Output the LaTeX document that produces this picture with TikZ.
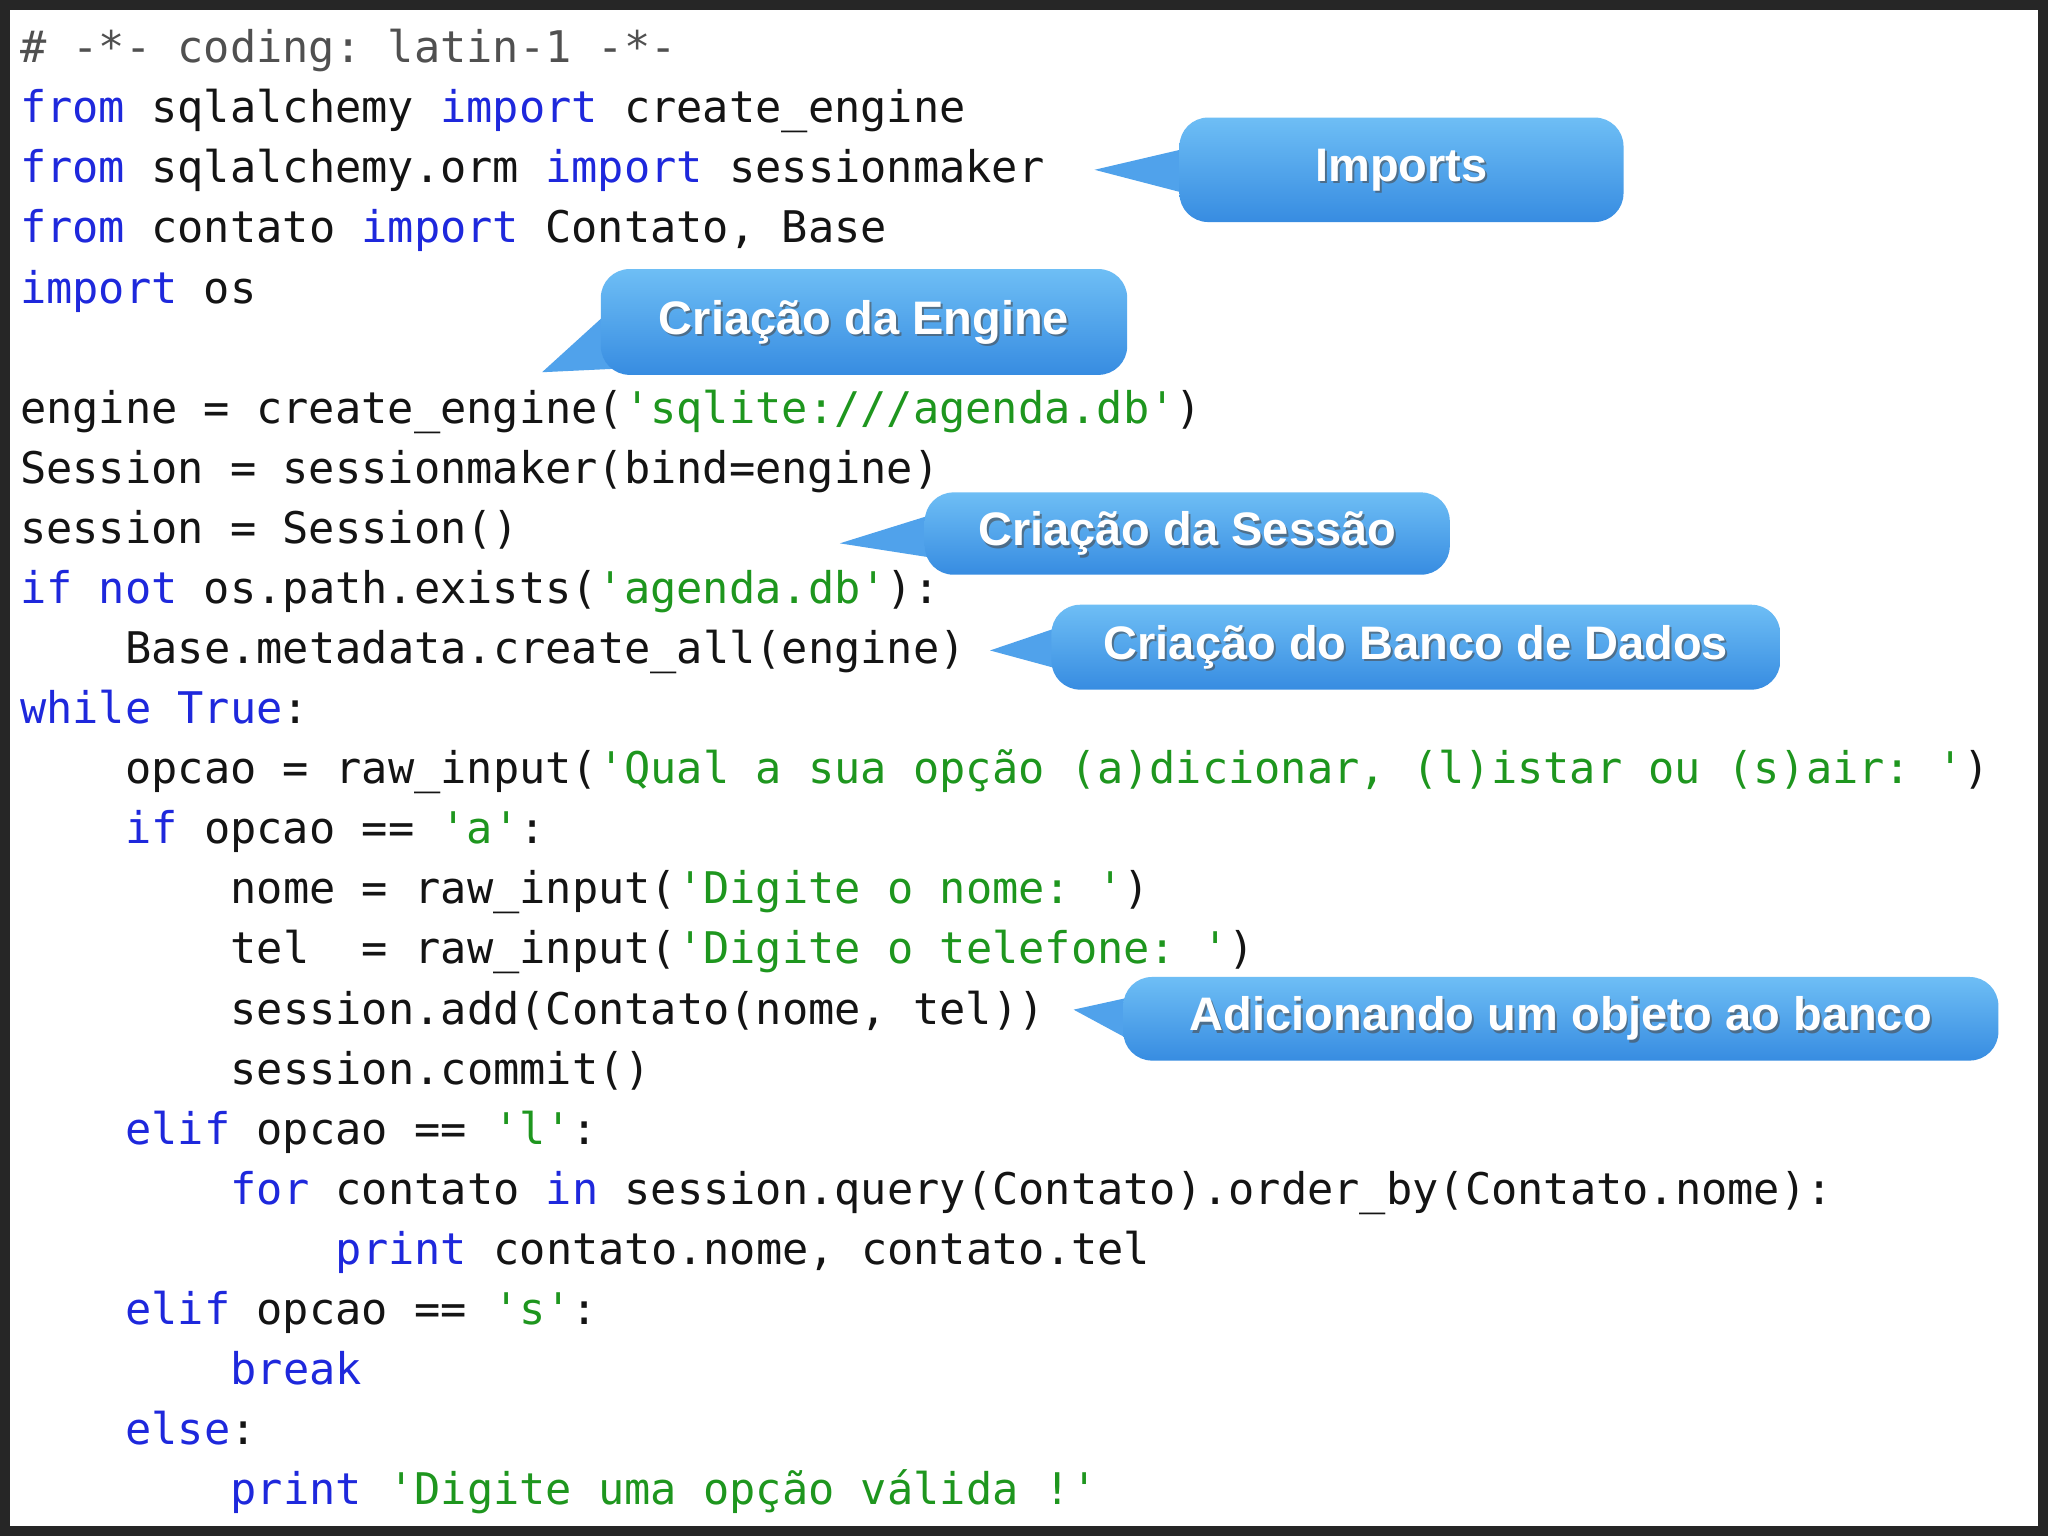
\documentclass[tikz,border=0pt]{standalone}
\usepackage{fontspec}
\setmonofont{DejaVu Sans Mono}
\newfontfamily\callfont{Liberation Sans}
\usetikzlibrary{shadings}
\definecolor{kwc}{RGB}{30,40,220}
\definecolor{stc}{RGB}{30,150,30}
\definecolor{txc}{RGB}{20,20,20}
\definecolor{cmc}{RGB}{80,80,80}
\definecolor{btop}{RGB}{110,190,245}
\definecolor{bbot}{RGB}{55,140,225}
\definecolor{bmid}{RGB}{80,162,235}
\newcommand{\kw}[1]{\textcolor{kwc}{#1}}
\newcommand{\st}[1]{\textcolor{stc}{#1}}
\newcommand{\codeline}[4]{\node[codestyle] (#1) at ({15+80.6*#3},{48+46*(#2-1)}) {#4};}
\tikzset{
 codestyle/.style={anchor=base west, inner sep=0pt, text=txc, font=\ttfamily\fontsize{16.7}{20}\selectfont},
 callout/.style={rounded corners=11pt, top color=btop, bottom color=bbot, inner sep=0pt, draw=none},
 calltext/.style={font=\callfont\bfseries\fontsize{18}{20}\selectfont, text=white, inner sep=0pt},
 shadowtext/.style={font=\callfont\bfseries\fontsize{18}{20}\selectfont, text=black!70, opacity=0.6, inner sep=0pt}
}
\newcommand{\callout}[9]{%
 \coordinate (#1tip) at (#6,#7);
 \fill[bmid] (#1tip) -- #8 -- cycle;
 \path[callout] (#2,#3) rectangle (#4,#5);
 \node[shadowtext] at ({(#2+#4)/2+1.5},{(#3+#5)/2+2}) {#9};
 \node[calltext] (#1) at ({(#2+#4)/2},{(#3+#5)/2}) {#9};}
\begin{document}
\begin{tikzpicture}[x=0.5pt,y=-0.5pt]
\fill[black!85] (0,0) rectangle (1568,1176);
\fill[white] (8,8) rectangle (1560,1168);
\useasboundingbox (0,0) rectangle (1568,1176);
\codeline{l1}{1}{0}{\textcolor{cmc}{\# -*- coding: latin-1 -*-}}
\codeline{l2}{2}{0}{\kw{from} sqlalchemy \kw{import} create\_engine}
\codeline{l3}{3}{0}{\kw{from} sqlalchemy.orm \kw{import} sessionmaker}
\codeline{l4}{4}{0}{\kw{from} contato \kw{import} Contato, Base}
\codeline{l5}{5}{0}{\kw{import} os}
\codeline{l7}{7}{0}{engine = create\_engine(\st{'sqlite:///agenda.db'})}
\codeline{l8}{8}{0}{Session = sessionmaker(bind=engine)}
\codeline{l9}{9}{0}{session = Session()}
\codeline{l10}{10}{0}{\kw{if} \kw{not} os.path.exists(\st{'agenda.db'}):}
\codeline{l11}{11}{1}{Base.metadata.create\_all(engine)}
\codeline{l12}{12}{0}{\kw{while} \kw{True}:}
\codeline{l13}{13}{1}{opcao = raw\_input(\st{'Qual a sua opção (a)dicionar, (l)istar ou (s)air: '})}
\codeline{l14}{14}{1}{\kw{if} opcao == \st{'a'}:}
\codeline{l15}{15}{2}{nome = raw\_input(\st{'Digite o nome: '})}
\codeline{l16}{16}{2}{tel\ \ = raw\_input(\st{'Digite o telefone: '})}
\codeline{l17}{17}{2}{session.add(Contato(nome, tel))}
\codeline{l18}{18}{2}{session.commit()}
\codeline{l19}{19}{1}{\kw{elif} opcao == \st{'l'}:}
\codeline{l20}{20}{2}{\kw{for} contato \kw{in} session.query(Contato).order\_by(Contato.nome):}
\codeline{l21}{21}{3}{\kw{print} contato.nome, contato.tel}
\codeline{l22}{22}{1}{\kw{elif} opcao == \st{'s'}:}
\codeline{l23}{23}{2}{\kw{break}}
\codeline{l24}{24}{1}{\kw{else}:}
\codeline{l25}{25}{2}{\kw{print} \st{'Digite uma opção válida !'}}
\callout{imp}{903}{90}{1243}{170}{838}{130}{(915,112) -- (915,150)}{Imports}
\callout{eng}{460}{206}{863}{287}{415}{285}{(470,235) -- (520,280)}{Criação da Engine}
\callout{ses}{708}{377}{1110}{440}{643}{416}{(720,392) -- (720,428)}{Criação da Sessão}
\callout{bd}{805}{463}{1363}{528}{758}{498}{(817,478) -- (817,514)}{Criação do Banco de Dados}
\callout{add}{860}{748}{1530}{812}{822}{773}{(872,762) -- (872,800)}{Adicionando um objeto ao banco}
\end{tikzpicture}
\end{document}
